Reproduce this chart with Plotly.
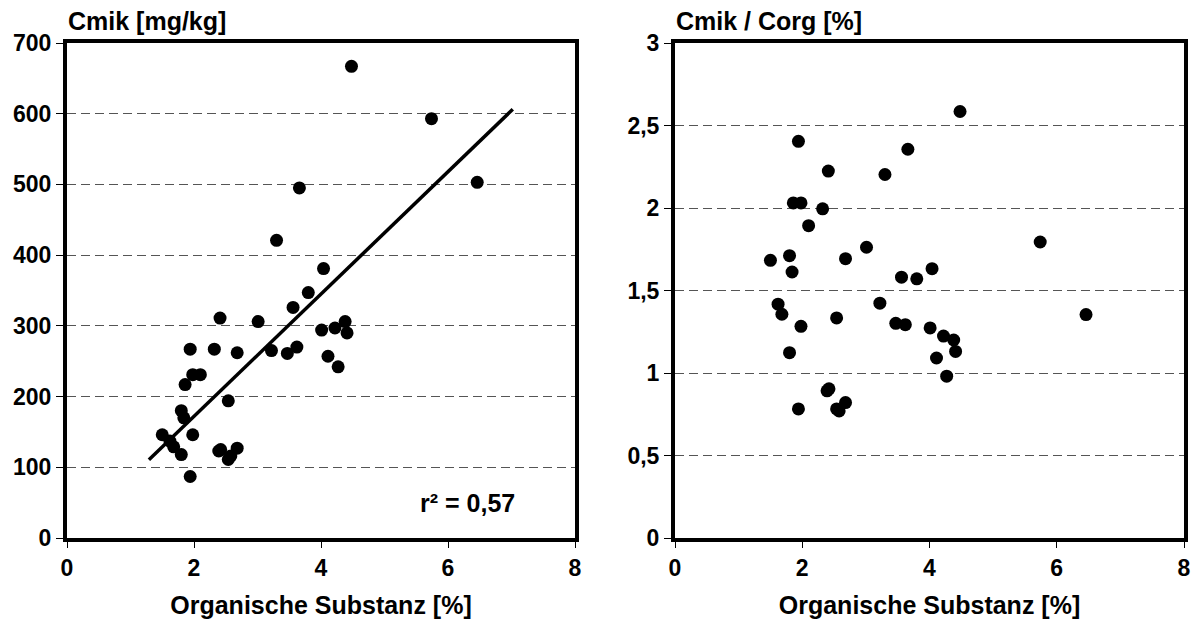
import plotly.graph_objects as go

# --- data ---
org_substanz = [4.48, 5.74, 6.46, 3.66, 3.30, 4.04, 3.80, 3.56, 2.41, 3.01, 4.01, 4.22, 4.38, 4.41,
                1.94, 2.32, 2.68, 3.22, 3.47, 3.62, 4.11, 4.27, 1.98, 2.10, 1.86, 2.54, 1.80, 1.84,
                1.50, 1.98, 1.62, 1.68, 1.80, 2.39, 2.42, 2.68, 2.54, 2.58, 1.94]
cmik = [667, 593, 503, 495, 421, 381, 347, 326, 311, 306, 294, 297, 306, 290,
        267, 267, 262, 265, 261, 270, 257, 242, 231, 231, 217, 194, 180, 170,
        146, 146, 137, 129, 118, 123, 125, 127, 111, 116, 87]
cmik_corg = [2.585, 1.794, 1.354, 2.356, 2.203, 1.632, 1.571, 1.581, 2.224, 1.762, 1.273, 1.224, 1.200, 1.131,
             2.404, 1.995, 1.693, 1.423, 1.301, 1.293, 1.091, 0.981, 2.031, 1.893, 2.031, 1.334, 1.711, 1.612,
             1.683, 1.283, 1.417, 1.356, 1.123, 0.892, 0.904, 0.821, 0.782, 0.770, 0.782]

trend_x = [1.29, 7.02]
trend_slope = 86.5
trend_intercept = -1.0
trend_y = [trend_slope * v + trend_intercept for v in trend_x]

x_ticks = [0, 2, 4, 6, 8]
y1_ticks = [0, 100, 200, 300, 400, 500, 600, 700]
y2_ticks = [0, 0.5, 1, 1.5, 2, 2.5, 3]
y2_ticktext = ["0", "0,5", "1", "1,5", "2", "2,5", "3"]

FONT = "Liberation Sans, Arial, sans-serif"
W, H = 1199, 621

fig = go.Figure()
marker = dict(color="black", size=13, line=dict(width=0))
fig.add_trace(go.Scatter(x=org_substanz, y=cmik, mode="markers", marker=marker,
                         xaxis="x", yaxis="y", showlegend=False))
fig.add_trace(go.Scatter(x=trend_x, y=trend_y, mode="lines", line=dict(color="black", width=3.5),
                         xaxis="x", yaxis="y", showlegend=False))
fig.add_trace(go.Scatter(x=org_substanz, y=cmik_corg, mode="markers", marker=marker,
                         xaxis="x2", yaxis="y2", showlegend=False))

y_bot = 1 - 538 / H
y_top = 1 - 43 / H
tickfont = dict(family=FONT, size=23, color="black", weight="bold")

def xaxis(domain, anchor):
    return dict(domain=domain, anchor=anchor, range=[0, 8], tickvals=x_ticks,
                showgrid=False, zeroline=False, showline=True, linecolor="black", linewidth=4,
                mirror=True, ticks="outside", ticklen=6, tickwidth=1, tickcolor="black",
                tickfont=tickfont, fixedrange=True, automargin=False,
                title=dict(text="Organische Substanz [%]",
                           font=dict(family=FONT, size=25, color="black", weight="bold"),
                           standoff=18))

def yaxis(anchor, rng, vals, text=None):
    d = dict(domain=[y_bot, y_top], anchor=anchor, range=rng, tickvals=vals,
             showgrid=True, gridcolor="#555555", griddash="9px,5px", gridwidth=1,
             zeroline=False, showline=True, linecolor="black", linewidth=4, mirror=True,
             ticks="outside", ticklen=7, tickwidth=1, tickcolor="black",
             tickfont=tickfont, fixedrange=True, automargin=False)
    if text is not None:
        d["ticktext"] = text
    return d

fig.update_layout(
    width=W, height=H,
    template="none",
    margin=dict(l=0, r=0, t=0, b=0, autoexpand=False),
    paper_bgcolor="white", plot_bgcolor="white",
    xaxis=xaxis([67 / W, 575 / W], "y"),
    yaxis=yaxis("x", [0, 700], y1_ticks),
    xaxis2=xaxis([675 / W, 1184 / W], "y2"),
    yaxis2=yaxis("x2", [0, 3], y2_ticks, y2_ticktext),
    annotations=[
        dict(text="Cmik [mg/kg]", x=66 / W, y=1 - 21 / H, xref="paper", yref="paper",
             xanchor="left", yanchor="middle", showarrow=False,
             font=dict(family=FONT, size=25, color="black", weight="bold")),
        dict(text="Cmik / Corg [%]", x=674 / W, y=1 - 21 / H, xref="paper", yref="paper",
             xanchor="left", yanchor="middle", showarrow=False,
             font=dict(family=FONT, size=25, color="black", weight="bold")),
        dict(text="r² = 0,57", x=6.3, y=50, xref="x", yref="y",
             xanchor="center", yanchor="middle", showarrow=False,
             font=dict(family=FONT, size=25, color="black", weight="bold")),
    ],
)

fig.write_html("out.html")
